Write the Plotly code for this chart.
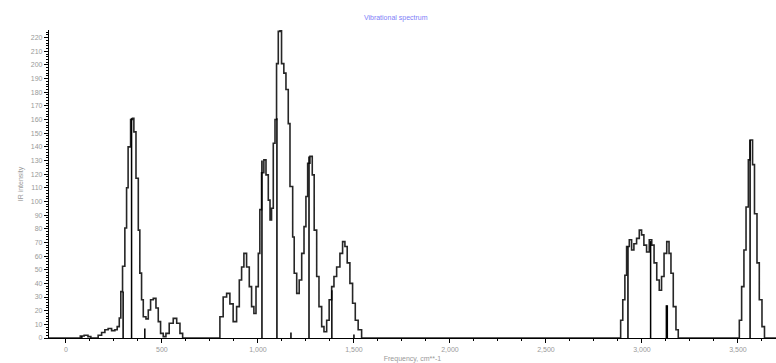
import plotly.graph_objects as go

# Broadened envelope (frequency in cm^-1, intensity)
env_freq = [-88, 60, 75, 95, 115, 130,
            150, 168, 186, 203, 220, 238, 255, 267, 278, 286, 295, 307, 316, 324, 337, 347,
            354, 365, 377, 385, 394, 403, 417, 429, 441, 455, 469, 481, 493, 507, 521, 538,
            559, 577, 594, 608,
            785, 802, 819, 837, 854, 871, 889, 903, 915, 927, 941, 955, 967, 979, 990, 1002,
            1010, 1019, 1031, 1042, 1054, 1063, 1071, 1080, 1089, 1097, 1106, 1115, 1123, 1135,
            1146, 1158, 1167, 1181, 1189, 1202, 1215, 1228, 1240, 1250, 1259, 1271, 1283, 1293,
            1306, 1318, 1332, 1344, 1358, 1371, 1384, 1396, 1410, 1427, 1441, 1453, 1465, 1479,
            1493, 1507, 1522, 1540,
            2877, 2889, 2900, 2911, 2920, 2934, 2946, 2958, 2972, 2986, 2998, 3010, 3024, 3038,
            3051, 3063, 3077, 3090, 3102, 3115, 3129, 3141, 3151, 3163, 3177, 3189,
            3493, 3507, 3519, 3531, 3542, 3554, 3563, 3576, 3586, 3599, 3611, 3625, 3638, 3698]
env_int = [0, 0, 1.5, 2, 1, 0,
           0, 2, 4, 6, 7, 5.4, 6, 8.3, 14.6, 34, 52.5, 80.6, 110, 140, 160, 161,
           151, 117, 79, 47.5, 28, 15.6, 14, 20.5, 28, 29, 22, 12, 3.4, 1, 3.4, 10.8,
           14.4, 10.8, 3.4, 0,
           0, 15.6, 30, 32.7, 25, 12, 23, 42.5, 52, 62, 52, 37.6, 23, 18, 37.6, 62,
           94, 121, 130.5, 119.5, 101, 86.5, 95, 142.7, 160, 201, 224.6, 225, 201, 194,
           182, 157, 111, 74, 47.4, 32.7, 42.5, 62, 81.6, 103.6, 128, 133, 119.5, 79,
           45, 23, 8.3, 4.6, 13, 28, 37.6, 45, 52, 62, 70.6, 67, 55, 40,
           25.4, 13, 6, 0,
           0, 13, 28, 46, 67, 72, 64.5, 69, 73, 79, 75.5, 68, 63, 72,
           68, 55, 42.5, 35, 45, 62, 70.6, 62, 47.4, 23, 6, 0,
           0, 13, 37.6, 64.5, 96, 130.5, 145, 127, 91, 55, 28, 8.3, 0, 0]

# Stick spectrum (frequency, intensity)
stick_freq = [83, 298, 342, 411, 1021, 1099, 1172, 1266, 1385, 1500, 2927, 3045, 3127, 3132, 3563]
stick_int = [1.5, 34, 161, 7, 130, 161, 4, 133, 35, 2.5, 67, 71, 24, 24, 145]

y_ticks = list(range(0, 221, 10))
x_ticks = [0, 500, 1000, 1500, 2000, 2500, 3000, 3500]

sx, sy = [], []
for f, h in zip(stick_freq, stick_int):
    sx += [f, f, None]
    sy += [0, h, None]

fig = go.Figure()
fig.add_trace(go.Scatter(x=env_freq, y=env_int, mode="lines", line_shape="hv",
                         line=dict(color="#262626", width=1.6), showlegend=False,
                         hoverinfo="skip"))
fig.add_trace(go.Scatter(x=sx, y=sy, mode="lines",
                         line=dict(color="#000000", width=1.5), showlegend=False,
                         hoverinfo="skip"))

tick_font = dict(family="Liberation Sans, Arial, sans-serif", size=7, color="#999999")

fig.update_layout(
    width=776, height=363,
    margin=dict(l=49, r=0, t=30, b=25),
    paper_bgcolor="white", plot_bgcolor="white",
    title=dict(text="Vibrational spectrum", x=0.51, xanchor="center", y=0.953,
               yanchor="middle",
               font=dict(family="Liberation Sans, Arial, sans-serif", size=7, color="#8080f8")),
    separators=".,",
    xaxis=dict(range=[-88, 3698], showgrid=False, zeroline=False,
               showline=True, linecolor="#000000", linewidth=1.3,
               tickmode="array", tickvals=x_ticks, tickformat=",d",
               ticks="outside", ticklen=4, tickcolor="#000000", tickwidth=1,
               minor=dict(dtick=125, ticks="outside", ticklen=2, tickcolor="#000000", tickwidth=1),
               tickfont=tick_font,
               title=dict(text="Frequency, cm**-1", standoff=4,
                          font=dict(family="Liberation Sans, Arial, sans-serif", size=7, color="#999999"))),
    yaxis=dict(range=[0, 225.6], showgrid=False, zeroline=False,
               showline=True, linecolor="#000000", linewidth=1.3,
               tickmode="array", tickvals=y_ticks,
               ticks="outside", ticklen=4, tickcolor="#000000", tickwidth=1,
               minor=dict(dtick=2, ticks="outside", ticklen=2, tickcolor="#000000", tickwidth=1),
               tickfont=tick_font,
               title=dict(text="IR intensity", standoff=6,
                          font=dict(family="Liberation Sans, Arial, sans-serif", size=7, color="#999999"))),
)

fig.write_html("out.html")
